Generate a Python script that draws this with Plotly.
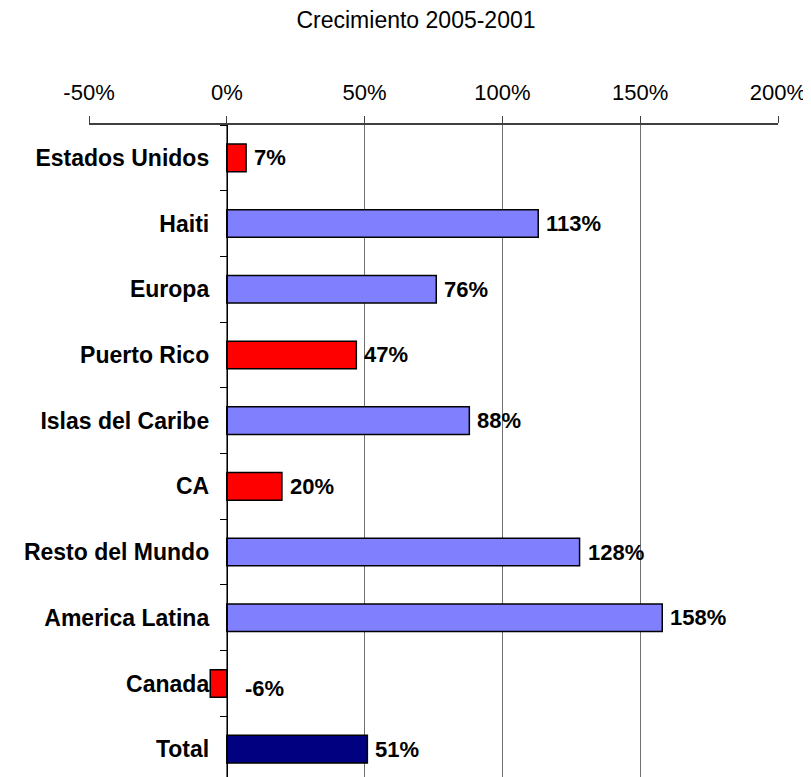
import plotly.graph_objects as go

categories = ["Estados Unidos", "Haiti", "Europa", "Puerto Rico", "Islas del Caribe",
              "CA", "Resto del Mundo", "America Latina", "Canada", "Total"]
values = [7, 113, 76, 47, 88, 20, 128, 158, -6, 51]
bar_colors = ["#FF0000", "#8080FF", "#8080FF", "#FF0000", "#8080FF",
              "#FF0000", "#8080FF", "#8080FF", "#FF0000", "#000080"]
x_ticks = [-50, 0, 50, 100, 150, 200]
x_tick_labels = ["-50%", "0%", "50%", "100%", "150%", "200%"]
title_text = "Crecimiento 2005-2001"

FONT = "Arial, Liberation Sans, sans-serif"
W, H = 803, 769  # page body has an 8px margin

fig = go.Figure()
fig.add_trace(go.Bar(
    y=categories, x=values, orientation="h",
    marker=dict(color=bar_colors, line=dict(color="black", width=1.5)),
    width=0.42, hoverinfo="skip",
))

annotations = []
for cat, v in zip(categories, values):
    if v >= 0:
        annotations.append(dict(x=v, y=cat, xref="x", yref="y", text=f"<b>{v}%</b>",
                                showarrow=False, xanchor="left", xshift=6,
                                font=dict(family=FONT, size=22, color="black")))
    else:
        annotations.append(dict(x=0, y=cat, xref="x", yref="y", text=f"<b>{v}%</b>",
                                showarrow=False, xanchor="left", xshift=16, yshift=-5,
                                font=dict(family=FONT, size=22, color="black")))

fig.update_layout(
    width=W, height=H,
    margin=dict(l=81, r=33, t=117, b=0),
    paper_bgcolor="white", plot_bgcolor="white",
    showlegend=False,
    title=dict(text=title_text, x=(416 - 8) / W, xref="container", xanchor="center",
               y=1 - 12 / H, yref="container", yanchor="middle",
               font=dict(family=FONT, size=23, color="black")),
    xaxis=dict(side="top", range=[-50, 200], tickvals=x_ticks, ticktext=x_tick_labels,
               ticks="outside", ticklen=7, tickcolor="#404040", tickwidth=1,
               showline=True, linecolor="#404040", linewidth=2,
               showgrid=True, gridcolor="#707070", gridwidth=1,
               zeroline=False, fixedrange=True,
               tickfont=dict(family=FONT, size=22, color="black"),
               ticklabelstandoff=7),
    yaxis=dict(type="category", categoryorder="array", categoryarray=categories,
               range=[9.424, -0.5], anchor="free", position=0.2,
               ticks="outside", tickson="boundaries", ticklen=7, tickcolor="black",
               showline=True, linecolor="black", linewidth=1,
               showgrid=False, zeroline=False,
               tickfont=dict(family=FONT, size=23, color="black"),
               tickprefix="<b>", ticksuffix="</b>",
               ticklabelstandoff=13),
    annotations=annotations,
)

fig.write_html("out.html")
